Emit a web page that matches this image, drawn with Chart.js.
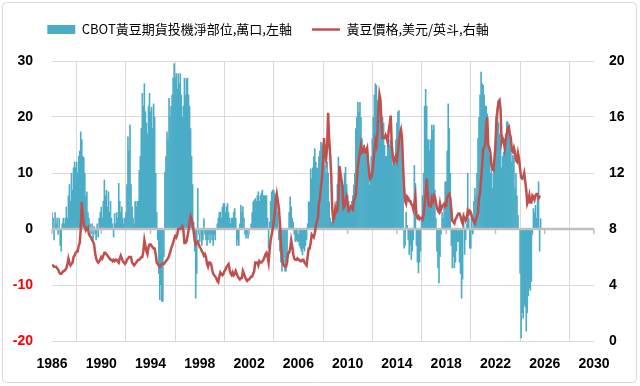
<!DOCTYPE html>
<html lang="zh-Hant">
<head>
<meta charset="UTF-8" />
<title>CBOT黃豆投機淨部位與黃豆價格</title>
<script src="https://cdn.jsdelivr.net/npm/chart.js@4"></script>
<style>
  html, body { margin: 0; padding: 0; background: #fff; }
  #wrap { width: 640px; height: 386px; }
</style>
</head>
<body>
<div id="wrap"><canvas id="chart" width="640" height="386"></canvas></div>
<script>
  // monthly readings, Jan 1986 .. Sep 2025
  const startYear = 1986;

  // CBOT soybean speculative net position, 10k contracts (left axis)
  const netPos = [
    3, 2, -2, 3, 1, 2, -1, 2, -3, -4, 1, 2,                 // 1986
    1, 2, 4, 2, 6, 8, 5, 10, 7, 11, 12, 11,                 // 1987
    12, 10, 13, 14, 17.4, 16, 13, 12.8, 10, 6, 6.7, 3,      // 1988
    2, 1, -1, 1, -2.3, 0.5, -1, -2, 1, -1.5, 2, 3,          // 1989
    4, 2, 5, 8.8, 6, 7, 4, 6.7, 3, 5, 2, 1,                 // 1990
    -1.5, 2.8, 1, 3, 2, 8.2, 5, 3, 4, 2, 1, 2,              // 1991
    3, 8, 16.5, 14, 18.6, 8, 4, 2, 1, 5, 4, 5,              // 1992
    5, 10.5, 13, 18, 24.3, 22, 26, 21, 19, 17, 22, 24.3,    // 1993
    21, 21.8, 18, 22.4, 20, 10, 3, -2, -8, -12.7, -10, -13, // 1994
    -13, -5, 10.2, 13, 17.4, 16, 23.4, 20, 22, 24, 27, 29.6, // 1995
    27, 27.8, 25, 27.8, 26, 27.8, 24, 20, 22, 27, 24, 26.9, // 1996
    27, 24, 22, 18, 13, 8, 1.3, -4, -12.4, -8, 7.3, -1,     // 1997
    -2.3, -1, -3, -2, 1.9, -1, -2, -3, -2, -1, -2.5, -1,    // 1998
    -2, -3, -1, -2, 0, 1, 2, 3, 3.1, 2, 4, 4.6,             // 1999
    4.6, 3, 4, 4.6, 3, 2, 1, 2, 2, 3, 3.7, 2,               // 2000
    -3, -2, -3, 1, 4.3, 3.1, 4, 2, -1, -1.7, -1, -1.7,      // 2001
    -1, 0, 1, 3, 4.9, 5.2, 5.5, 5, 6, 6.7, 5, 6,            // 2002
    6.5, 7, 6, 6, 6, 6, 2, -3.5, 1.3, 5, 6.7, 7,            // 2003
    7, 6.4, 6, 6, 3, -2, -4, -6, -7.6, -6, -5, -7.6,        // 2004
    -7.6, -4, 0, 3, 5.8, 4, 2, 1.3, -1, -2.3, -2, -2.3,     // 2005
    -2.3, -3, -3.5, -4, -4.7, -3.5, -4, -3, -2, 1, 4.9, 4.9, // 2006
    10.8, 9, 11, 13, 14.4, 12, 11, 10.8, 13, 14, 15.6, 15,  // 2007
    15.3, 14, 11.4, 10, 12, 10, 4.9, 2, 1.3, 1, 2, 3,       // 2008
    3.7, 5, 8, 12.9, 11, 9.6, 8, 6, 7.9, 10, 11.1, 8,       // 2009
    6.1, 5, 4, 4, 5, 6, 7.9, 10, 18, 20, 22.7, 21,          // 2010
    22.7, 20, 16.2, 14, 15, 13.2, 14, 12, 10, 7.9, 9, 13,   // 2011
    16.2, 20, 24, 26, 25.7, 23, 22, 22, 20, 18, 20, 19,     // 2012
    15, 13, 13, 15, 16, 15, 16, 14, 11.4, 12, 13, 16,       // 2013
    19, 21, 21.2, 17.4, 16.5, 11, 7.3, -3.5, -3, 3.1, 0.7, -2, // 2014
    -4.6, -3, -5.5, -4, -2, 11.4, 8.2, -3, -6, -7.9, -6, -4, // 2015
    2, 6, 10, 22, 25, 22, 16, 16, 14, 16, 18.6, 17.7,       // 2016
    18.6, 7, 2, -4, -7, -9.7, -5, -1, 3, 2, 4, 8.5,         // 2017
    8.5, 14, 22.4, 18, 10, -3, -7, -5, -7, -6, -4, -2.3,    // 2018
    -2.3, -6, -8, -12.4, -9, 3, -4.6, -2, 1, 10, 2, -3.5,   // 2019
    -3.5, 2, -1, 5, 7.3, 6, 10, 16.2, 20, 24, 28.1, 26,     // 2020
    25.7, 24, 22, 22, 20.6, 15, 13.2, 10, 12.9, 7.3, 10, 13, // 2021
    16, 20, 21.8, 19, 17, 16, 11, 13, 13.8, 15, 17, 19.2,   // 2022
    19.2, 17, 16.2, 14.7, 12, 13.2, 13, 7.3, 10, 6, 2.5, 0, // 2023
    -8, -19.5, -15, -16, -13.6, -14, -18.3, -15, -12, -10.6, -11, -9.4, // 2024
    -1, 3.7, 3, 4.3, 2, 6, 8.5, -4, 1.9                      // 2025
  ];

  // soybean price, USD per bushel (right axis)
  const price = [
    5.4, 5.4, 5.3, 5.3, 5.3, 5.2, 5.1, 4.9, 4.8, 4.8, 4.9, 5.0,       // 1986
    5.0, 5.1, 5.2, 5.5, 5.9, 5.6, 5.4, 5.5, 5.6, 6.0, 6.1, 6.3,       // 1987
    6.4, 6.4, 6.8, 7.0, 8.0, 9.9, 9.0, 8.3, 8.2, 7.9, 8.0, 8.1,       // 1988
    7.6, 7.5, 7.4, 7.2, 7.1, 6.9, 6.3, 5.9, 5.7, 5.6, 5.7, 5.8,       // 1989
    6.0, 5.9, 6.1, 6.3, 6.3, 6.2, 6.1, 6.0, 5.9, 5.8, 5.8, 5.7,       // 1990
    5.8, 5.7, 5.8, 5.8, 5.7, 5.6, 5.9, 6.1, 5.9, 5.7, 5.6, 5.5,       // 1991
    5.6, 5.8, 5.9, 6.0, 6.0, 6.0, 5.6, 5.5, 5.4, 5.5, 5.6, 5.7,       // 1992
    5.8, 5.8, 5.9, 6.0, 6.0, 6.4, 7.2, 6.8, 6.4, 6.2, 6.7, 6.9,       // 1993
    6.9, 6.8, 6.7, 6.6, 6.6, 6.2, 5.6, 5.5, 5.4, 5.3, 5.4, 5.5,       // 1994
    5.5, 5.5, 5.6, 5.7, 5.8, 5.9, 6.1, 6.3, 6.6, 6.8, 7.0, 7.3,       // 1995
    7.5, 7.4, 7.6, 8.0, 8.0, 8.0, 8.1, 8.2, 7.9, 7.0, 7.0, 7.1,       // 1996
    7.5, 7.9, 8.5, 8.9, 8.7, 8.3, 7.8, 7.2, 6.9, 7.0, 7.1, 6.9,       // 1997
    6.7, 6.6, 6.4, 6.3, 6.1, 6.2, 6.0, 5.5, 5.3, 5.6, 5.6, 5.5,       // 1998
    5.1, 4.8, 4.7, 4.6, 4.5, 4.3, 4.2, 4.6, 4.9, 4.8, 4.7, 4.8,       // 1999
    5.0, 5.1, 5.3, 5.4, 5.5, 5.1, 4.8, 4.7, 4.9, 4.7, 4.8, 5.0,       // 2000
    4.8, 4.6, 4.5, 4.4, 4.5, 4.5, 5.0, 4.8, 4.6, 4.4, 4.3, 4.4,       // 2001
    4.4, 4.5, 4.6, 4.6, 4.8, 5.0, 5.6, 5.6, 5.6, 5.4, 5.7, 5.6,       // 2002
    5.6, 5.7, 5.8, 6.0, 6.2, 6.3, 6.0, 5.6, 6.5, 7.2, 7.6, 8.0,       // 2003
    8.5, 9.2, 10.0, 10.5, 10.0, 9.5, 8.5, 7.0, 6.0, 5.5, 5.4, 5.3,    // 2004
    5.3, 5.6, 6.3, 6.3, 6.6, 7.2, 6.8, 6.2, 5.9, 5.8, 5.8, 5.9,       // 2005
    5.8, 5.8, 5.7, 5.7, 5.8, 5.8, 5.6, 5.5, 5.4, 6.0, 6.6, 6.6,       // 2006
    7.0, 7.6, 7.5, 7.4, 7.7, 8.2, 8.5, 8.8, 9.8, 10.2, 11.0, 11.6,    // 2007
    12.8, 14.5, 13.5, 13.0, 13.8, 16.3, 14.5, 13.3, 11.8, 9.5, 8.6, 8.8, // 2008
    9.5, 9.2, 9.3, 10.2, 12.5, 12.0, 11.5, 11.0, 9.5, 9.6, 10.0, 10.3, // 2009
    9.8, 9.3, 9.4, 9.6, 9.5, 9.4, 10.0, 10.2, 10.5, 11.5, 12.5, 13.0, // 2010
    13.5, 14.0, 13.5, 13.6, 13.8, 13.5, 13.6, 13.8, 12.8, 12.0, 11.6, 11.7, // 2011
    12.0, 12.7, 13.5, 14.3, 14.0, 14.8, 16.5, 17.6, 17.2, 15.5, 14.5, 14.5, // 2012
    14.5, 14.7, 14.5, 14.2, 15.0, 15.5, 16.1, 14.0, 13.2, 12.8, 13.0, 13.2, // 2013
    12.9, 13.5, 14.3, 14.8, 15.1, 14.5, 12.5, 11.0, 10.0, 9.8, 10.3, 10.2, // 2014
    10.0, 10.0, 9.8, 9.7, 9.4, 9.8, 10.3, 9.0, 8.8, 8.9, 8.7, 8.8,    // 2015
    8.8, 8.7, 9.0, 9.7, 10.5, 11.6, 10.5, 9.7, 9.6, 9.6, 10.2, 10.0,  // 2016
    10.4, 10.3, 9.9, 9.5, 9.3, 9.2, 9.8, 9.4, 9.6, 9.7, 9.8, 9.6,     // 2017
    9.7, 10.3, 10.4, 10.5, 10.2, 9.4, 8.6, 8.5, 8.4, 8.7, 8.8, 9.0,   // 2018
    9.1, 9.1, 8.9, 8.6, 8.4, 8.9, 8.8, 8.6, 8.8, 9.3, 9.1, 9.3,       // 2019
    9.2, 8.9, 8.7, 8.5, 8.4, 8.7, 8.9, 9.2, 10.2, 10.6, 11.6, 12.5,   // 2020
    13.7, 13.8, 14.0, 15.3, 16.0, 14.0, 13.8, 13.5, 12.6, 12.3, 12.2, 13.0, // 2021
    14.0, 15.9, 16.5, 17.1, 17.2, 16.5, 14.2, 14.5, 14.3, 13.8, 14.4, 14.8, // 2022
    15.2, 15.3, 14.8, 14.5, 13.6, 13.5, 13.8, 13.5, 12.9, 12.8, 13.4, 13.0, // 2023
    12.3, 11.7, 11.6, 11.7, 12.0, 11.4, 10.8, 9.8, 10.0, 10.4, 9.9, 9.9,    // 2024
    10.4, 10.3, 10.1, 10.4, 10.5, 10.5, 10.2, 10.3, 10.3                   // 2025
  ];

  const months = netPos.map((_, i) => startYear + i / 12);
  const barPoints = months.map((m, i) => ({ x: m, y: netPos[i] }));
  const linePoints = months.map((m, i) => ({ x: m, y: price[i] }));

  const tickFont = { family: "'Liberation Sans', Arial, sans-serif", size: 14, weight: "bold" };

  // white page + light rounded frame
  const framePlugin = {
    id: "frame",
    beforeDraw(chart) {
      const c = chart.ctx;
      c.save();
      c.fillStyle = "#fff";
      c.fillRect(0, 0, chart.width, chart.height);
      c.strokeStyle = "#d9d9d9";
      c.lineWidth = 1;
      c.beginPath();
      c.roundRect(2.5, 2.5, chart.width - 6, chart.height - 6, 4);
      c.stroke();
      c.restore();
    }
  };

  // grey zero line (with small tick marks) over the bars, under the price line
  const zeroLine = {
    id: "zeroLine",
    afterDatasetDraw(chart, args) {
      if (args.index !== 0) return;
      const c = chart.ctx, a = chart.chartArea;
      const y0 = chart.scales.y.getPixelForValue(0);
      c.save();
      c.strokeStyle = "#bfbfbf";
      c.lineWidth = 2.5;
      c.beginPath();
      c.moveTo(a.left, y0);
      c.lineTo(a.right, y0);
      c.stroke();
      c.lineWidth = 1.5;
      chart.scales.x.ticks.forEach(t => {
        const x = chart.scales.x.getPixelForValue(t.value);
        c.beginPath();
        c.moveTo(x, y0);
        c.lineTo(x, y0 + 5);
        c.stroke();
      });
      c.restore();
    }
  };

  // extra room under the legend, legend shifted left like the original
  const legendTweak = {
    id: "legendTweak",
    beforeInit(chart) {
      const lg = chart.legend;
      const fit = lg.fit;
      lg.fit = function () {
        fit.call(this);
        this.height += 15;
      };
      const draw = lg.draw;
      lg.draw = function () {
        const c = this.ctx;
        c.save();
        c.translate(-52, 0);
        draw.call(this);
        c.restore();
      };
    }
  };

  new Chart(document.getElementById("chart"), {
    data: {
      datasets: [
        {
          type: "bar",
          label: "CBOT黃豆期貨投機淨部位,萬口,左軸",
          data: barPoints,
          yAxisID: "y",
          backgroundColor: "#4BACC6",
          borderWidth: 0,
          barPercentage: 1.6,
          categoryPercentage: 1,
          pointStyle: "rect",
          order: 1
        },
        {
          type: "line",
          label: "黃豆價格,美元/英斗,右軸",
          data: linePoints,
          yAxisID: "y1",
          borderColor: "#C0504D",
          backgroundColor: "#C0504D",
          borderWidth: 2.5,
          pointRadius: 0,
          pointStyle: "line",
          tension: 0,
          order: 0
        }
      ]
    },
    options: {
      responsive: false,
      animation: false,
      devicePixelRatio: 1,
      layout: { padding: { top: 3, left: 0, right: 0, bottom: 0 } },
      plugins: {
        tooltip: { enabled: false },
        legend: {
          position: "top",
          labels: {
            usePointStyle: true,
            pointStyleWidth: 28,
            boxWidth: 28,
            boxHeight: 9,
            padding: 20,
            color: "#000",
            font: { family: "'Noto Sans CJK TC', 'Noto Sans', sans-serif", size: 13 },
            sort: (a, b) => a.datasetIndex - b.datasetIndex
          }
        }
      },
      scales: {
        x: {
          type: "linear",
          min: 1986,
          max: 2030,
          offset: false,
          ticks: {
            stepSize: 4,
            callback: v => String(v),
            color: "#000",
            font: tickFont,
            padding: 15,
            maxRotation: 0
          },
          grid: { color: "#d9d9d9", lineWidth: 1, drawTicks: false },
          border: { display: false },
          afterFit(s) { s.height = 45; }
        },
        y: {
          position: "left",
          min: -20,
          max: 30,
          ticks: {
            stepSize: 10,
            color: ctx => (ctx.tick.value < 0 ? "#ff0000" : "#000"),
            font: tickFont,
            padding: 19
          },
          grid: { color: "#d9d9d9", lineWidth: 1, drawTicks: false },
          border: { display: false },
          afterFit(s) { s.width = 52; }
        },
        y1: {
          position: "right",
          min: 0,
          max: 20,
          ticks: { stepSize: 4, color: "#000", font: tickFont, padding: 15 },
          grid: { display: false, drawTicks: false },
          border: { display: false },
          afterFit(s) { s.width = 46; }
        }
      }
    },
    plugins: [framePlugin, zeroLine, legendTweak]
  });
</script>
</body>
</html>
